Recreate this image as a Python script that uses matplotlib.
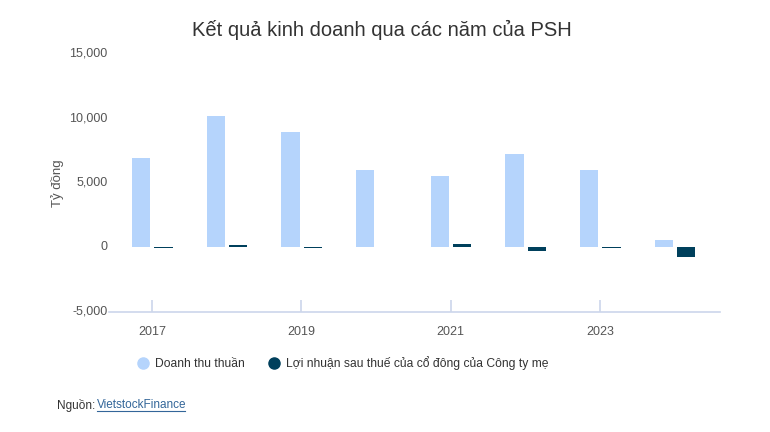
import matplotlib.pyplot as plt
from matplotlib.lines import Line2D
import numpy as np

plt.rcParams['font.family'] = ['Liberation Sans', 'DejaVu Sans']

years = [2017, 2018, 2019, 2020, 2021, 2022, 2023, 2024]
revenue = [6900, 10150, 8940, 6000, 5550, 7230, 6000, 590]
profit = [-15, 150, -20, 0, 260, -260, -15, -780]
tick_years = [2017, 2019, 2021, 2023]
yticks = [-5000, 0, 5000, 10000, 15000]

c_rev = "#b5d4fc"
c_prof = "#00405c"

W, H = 770, 432
fig = plt.figure(figsize=(W / 100, H / 100), dpi=100)
ax = fig.add_axes([109 / W, 1 - 312 / H, (720 - 109) / W, (312 - 53.5) / H])

x = np.arange(len(years))
bw = 0.245
ax.bar(x - 0.147, revenue, bw, color=c_rev)
ax.bar(x + 0.152, profit, bw, color=c_prof)

ax.set_xlim(-0.576, 7.607)
ax.set_ylim(-5000, 15000)
ax.set_yticks(yticks)
ax.set_yticklabels([f"{v:,}" for v in yticks])
ax.set_xticks([years.index(y) for y in tick_years])
ax.set_xticklabels([str(y) for y in tick_years])

for s in ["top", "right", "left"]:
    ax.spines[s].set_visible(False)
ax.spines["bottom"].set_color("#ccd6eb")
ax.spines["bottom"].set_linewidth(1.2)
ax.tick_params(axis="x", direction="in", length=9, color="#ccd6eb", width=1.2,
               labelsize=9, labelcolor="#555555", pad=10)
ax.tick_params(axis="y", length=0, labelsize=9, labelcolor="#555555", pad=1)
for lab in ax.get_yticklabels():
    lab.set_verticalalignment("center")

ax.set_ylabel("Tỷ đồng", fontsize=9.5, color="#555555")
ax.yaxis.set_label_coords((64 - 109) / 611, 0.5)

fig.text(382 / W, 1 - 30 / H, "Kết quả kinh doanh qua các năm của PSH",
         ha="center", va="center", fontsize=14.5, color="#333333")

handles = [Line2D([], [], marker="o", linestyle="", markersize=8, color=c_rev),
           Line2D([], [], marker="o", linestyle="", markersize=8, color=c_prof)]
ax.legend(handles, ["Doanh thu thuần", "Lợi nhuận sau thuế của cổ đông của Công ty mẹ"],
          loc="center", bbox_to_anchor=((343 - 109) / 611, -(363 - 312) / (312 - 53.5)),
          ncol=2, frameon=False, fontsize=8.7, handlelength=0.8,
          handletextpad=0.6, columnspacing=2.0, labelcolor="#333333")

fig.text(57 / W, 1 - 405 / H, "Nguồn:", ha="left", va="center", fontsize=8.5, color="#333333")
fig.text(97 / W, 1 - 405 / H, "VietstockFinance", ha="left", va="center", fontsize=8.5,
         color="#336699")
fig.add_artist(Line2D([97 / W, 185 / W], [1 - 411 / H, 1 - 411 / H], color="#336699", lw=0.8))

fig.savefig("out.png", dpi=100)
